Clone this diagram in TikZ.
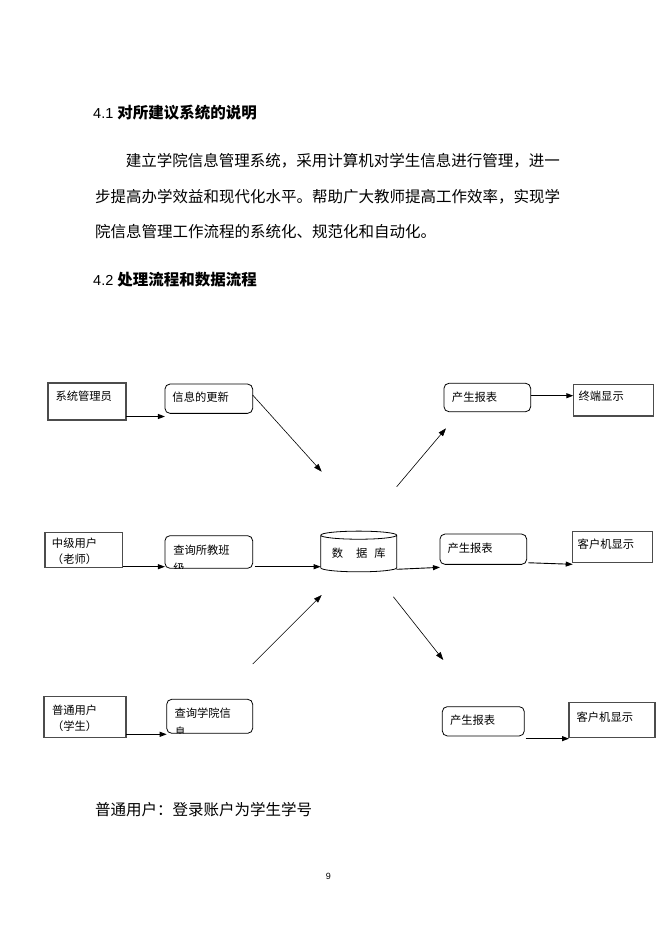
\documentclass[tikz,border=0pt]{standalone}
\usepackage{fontspec}
\setmainfont{Liberation Sans}
\newfontfamily\cjk{Noto Sans CJK SC}
\usetikzlibrary{shapes.geometric,arrows.meta,calc}

\begin{document}
\begin{tikzpicture}[x=1pt, y=-1pt,
    boxfont/.style={font=\cjk\fontsize{11.3}{16.7}\selectfont},
    bodyfont/.style={font=\cjk\fontsize{15.5}{20}\selectfont},
    boxtext/.style n args={3}{path picture={\node[boxfont, anchor=north west, inner sep=0pt, minimum width=0pt, minimum height=0pt, draw=none, fill=none, align=left] at ([xshift=#1, yshift=-#2]path picture bounding box.north west) {#3};}},
    userbox/.style={rectangle, draw=black!70, line width=1.3pt, fill=white, inner sep=0pt, outer sep=0pt},
    stepbox/.style={rectangle, rounded corners=5pt, draw=black, line width=0.8pt, fill=white, inner sep=0pt, outer sep=0pt},
    dbbox/.style={cylinder, shape border rotate=90, aspect=0.15, draw=black, line width=0.8pt, fill=white, minimum width=76pt, minimum height=40.7pt, inner sep=0pt, outer sep=0pt, boxfont},
    flow/.style={-{Triangle[length=7pt, width=5pt]}, line width=0.9pt},
    diag/.style={-{Triangle[length=8pt, width=5.5pt]}, line width=0.6pt},
    txt/.style={anchor=west, inner sep=0pt}
]
\useasboundingbox[fill=white] (0,0) rectangle (662,936);

% === LAYOUT (pixel grid, y downwards) ===
% Headings: y=112.7 and y=279.3, paragraph lines 35.5 apart
% Diagram rows: y=400, y=550, y=718; columns x=87, 209, 359, 485, 613

% Section 4.1
\node[txt] (head1) at (93,112.7) {\fontsize{14.5}{16}\selectfont 4.1 {\cjk\bfseries\fontsize{15.5}{20}\selectfont 对所建议系统的说明}};
\node[txt, bodyfont] (line1) at (125.7,160.7) {建立学院信息管理系统，采用计算机对学生信息进行管理，进一};
\node[txt, bodyfont] (line2) at (95,196.7) {步提高办学效益和现代化水平。帮助广大教师提高工作效率，实现学};
\node[txt, bodyfont] (line3) at (95,231.7) {院信息管理工作流程的系统化、规范化和自动化。};

% Section 4.2
\node[txt] (head2) at (93,279.3) {\fontsize{14.5}{16}\selectfont 4.2 {\cjk\bfseries\fontsize{15.5}{20}\selectfont 处理流程和数据流程}};

% Users (left column)
\node[userbox, minimum width=78pt, minimum height=37pt, boxtext={7.5pt}{8.2pt}{系统管理员}] (admin) at (87,401.5) {};
\node[userbox, minimum width=77.7pt, minimum height=35pt, boxtext={7pt}{5.4pt}{中级用户\\（老师）}] (teacher) at (83.8,549.8) {};
\node[userbox, minimum width=82pt, minimum height=40.6pt, boxtext={8pt}{8pt}{普通用户\\（学生）}] (student) at (85,717) {};

% Operations
\node[stepbox, minimum width=87.7pt, minimum height=29.3pt, boxtext={7.5pt}{8.2pt}{信息的更新}] (update) at (208.8,398.7) {};
\node[stepbox, minimum width=87.7pt, minimum height=32.6pt, boxtext={8.3pt}{9pt}{查询所教班\\[2pt]级}] (queryclass) at (208.8,552) {};
\node[stepbox, minimum width=86pt, minimum height=34pt, boxtext={7.8pt}{8.7pt}{查询学院信\\[2pt]息}] (querycollege) at (209.7,716.3) {};

% Database
\node[dbbox] (db) at (358.7,553.7) {数\hspace{13pt}据\hspace{7pt}库\hspace{10pt}};

% Reports
\node[stepbox, minimum width=86.7pt, minimum height=28.4pt, boxtext={8pt}{8.4pt}{产生报表}] (reportA) at (487.3,397.5) {};
\node[stepbox, minimum width=86.7pt, minimum height=30.3pt, boxtext={7.6pt}{8.7pt}{产生报表}] (reportB) at (483.3,549.2) {};
\node[stepbox, minimum width=82pt, minimum height=29.3pt, boxtext={7.7pt}{8.7pt}{产生报表}] (reportC) at (483.3,721.3) {};

% Displays
\node[userbox, minimum width=80pt, minimum height=31.7pt, boxtext={5.3pt}{7pt}{终端显示}] (terminal) at (613.3,400.2) {};
\node[userbox, minimum width=80pt, minimum height=31pt, boxtext={5pt}{7pt}{客户机显示}] (clientA) at (612.7,547.2) {};
\node[userbox, minimum width=86pt, minimum height=35pt, boxtext={7.6pt}{8.7pt}{客户机显示}] (clientB) at (612,720.2) {};

% Free ends of the diagonal arrows
\coordinate (upd-tip) at (321.7,471.7);
\coordinate (rep-tail) at (396.7,486.7);
\coordinate (rep-tip) at (446,428.3);
\coordinate (col-tail) at (252.7,664);
\coordinate (col-tip) at (321.7,595);
\coordinate (out-tail) at (393.3,596.7);
\coordinate (out-tip) at (443.3,660);

% Horizontal flows
\draw[flow] ([yshift=3.5pt]admin.south east) -- ([yshift=3.5pt]admin.south east -| update.west);
\draw[flow] ([yshift=1.8pt]reportA.east) -- ([yshift=1.8pt]reportA.east -| terminal.west);
\draw[flow] ([yshift=0.6pt]teacher.south east) -- ([yshift=0.6pt]teacher.south east -| queryclass.west);
\draw[flow] ([xshift=2pt, yshift=1.6pt]queryclass.south east) -- ([yshift=1.6pt]queryclass.south east -| db.west);
\draw[flow] ([yshift=-15.6pt]db.east) -- ([yshift=-3pt]reportB.south west);
\draw[flow] ([xshift=1.6pt, yshift=1.6pt]reportB.south east) -- ([yshift=-1.6pt]clientA.south west);
\draw[flow] ([yshift=3pt]student.south east) -- ([yshift=3pt]student.south east -| querycollege.west);
\draw[flow] ([xshift=1.4pt, yshift=-2.7pt]reportC.south east) -- ([yshift=-2.7pt]reportC.south east -| clientB.west);

% Diagonal flows
\draw[diag] ([yshift=3.7pt]update.east) -- (upd-tip);
\draw[diag] (rep-tail) -- (rep-tip);
\draw[diag] (col-tail) -- (col-tip);
\draw[diag] (out-tail) -- (out-tip);

% Note and page number
\node[txt, bodyfont] (note) at (95,809.3) {普通用户：登录账户为学生学号};
\node[inner sep=0pt, font=\fontsize{9}{11}\selectfont] (pageno) at (328.3,876) {9};

\end{tikzpicture}
\end{document}
